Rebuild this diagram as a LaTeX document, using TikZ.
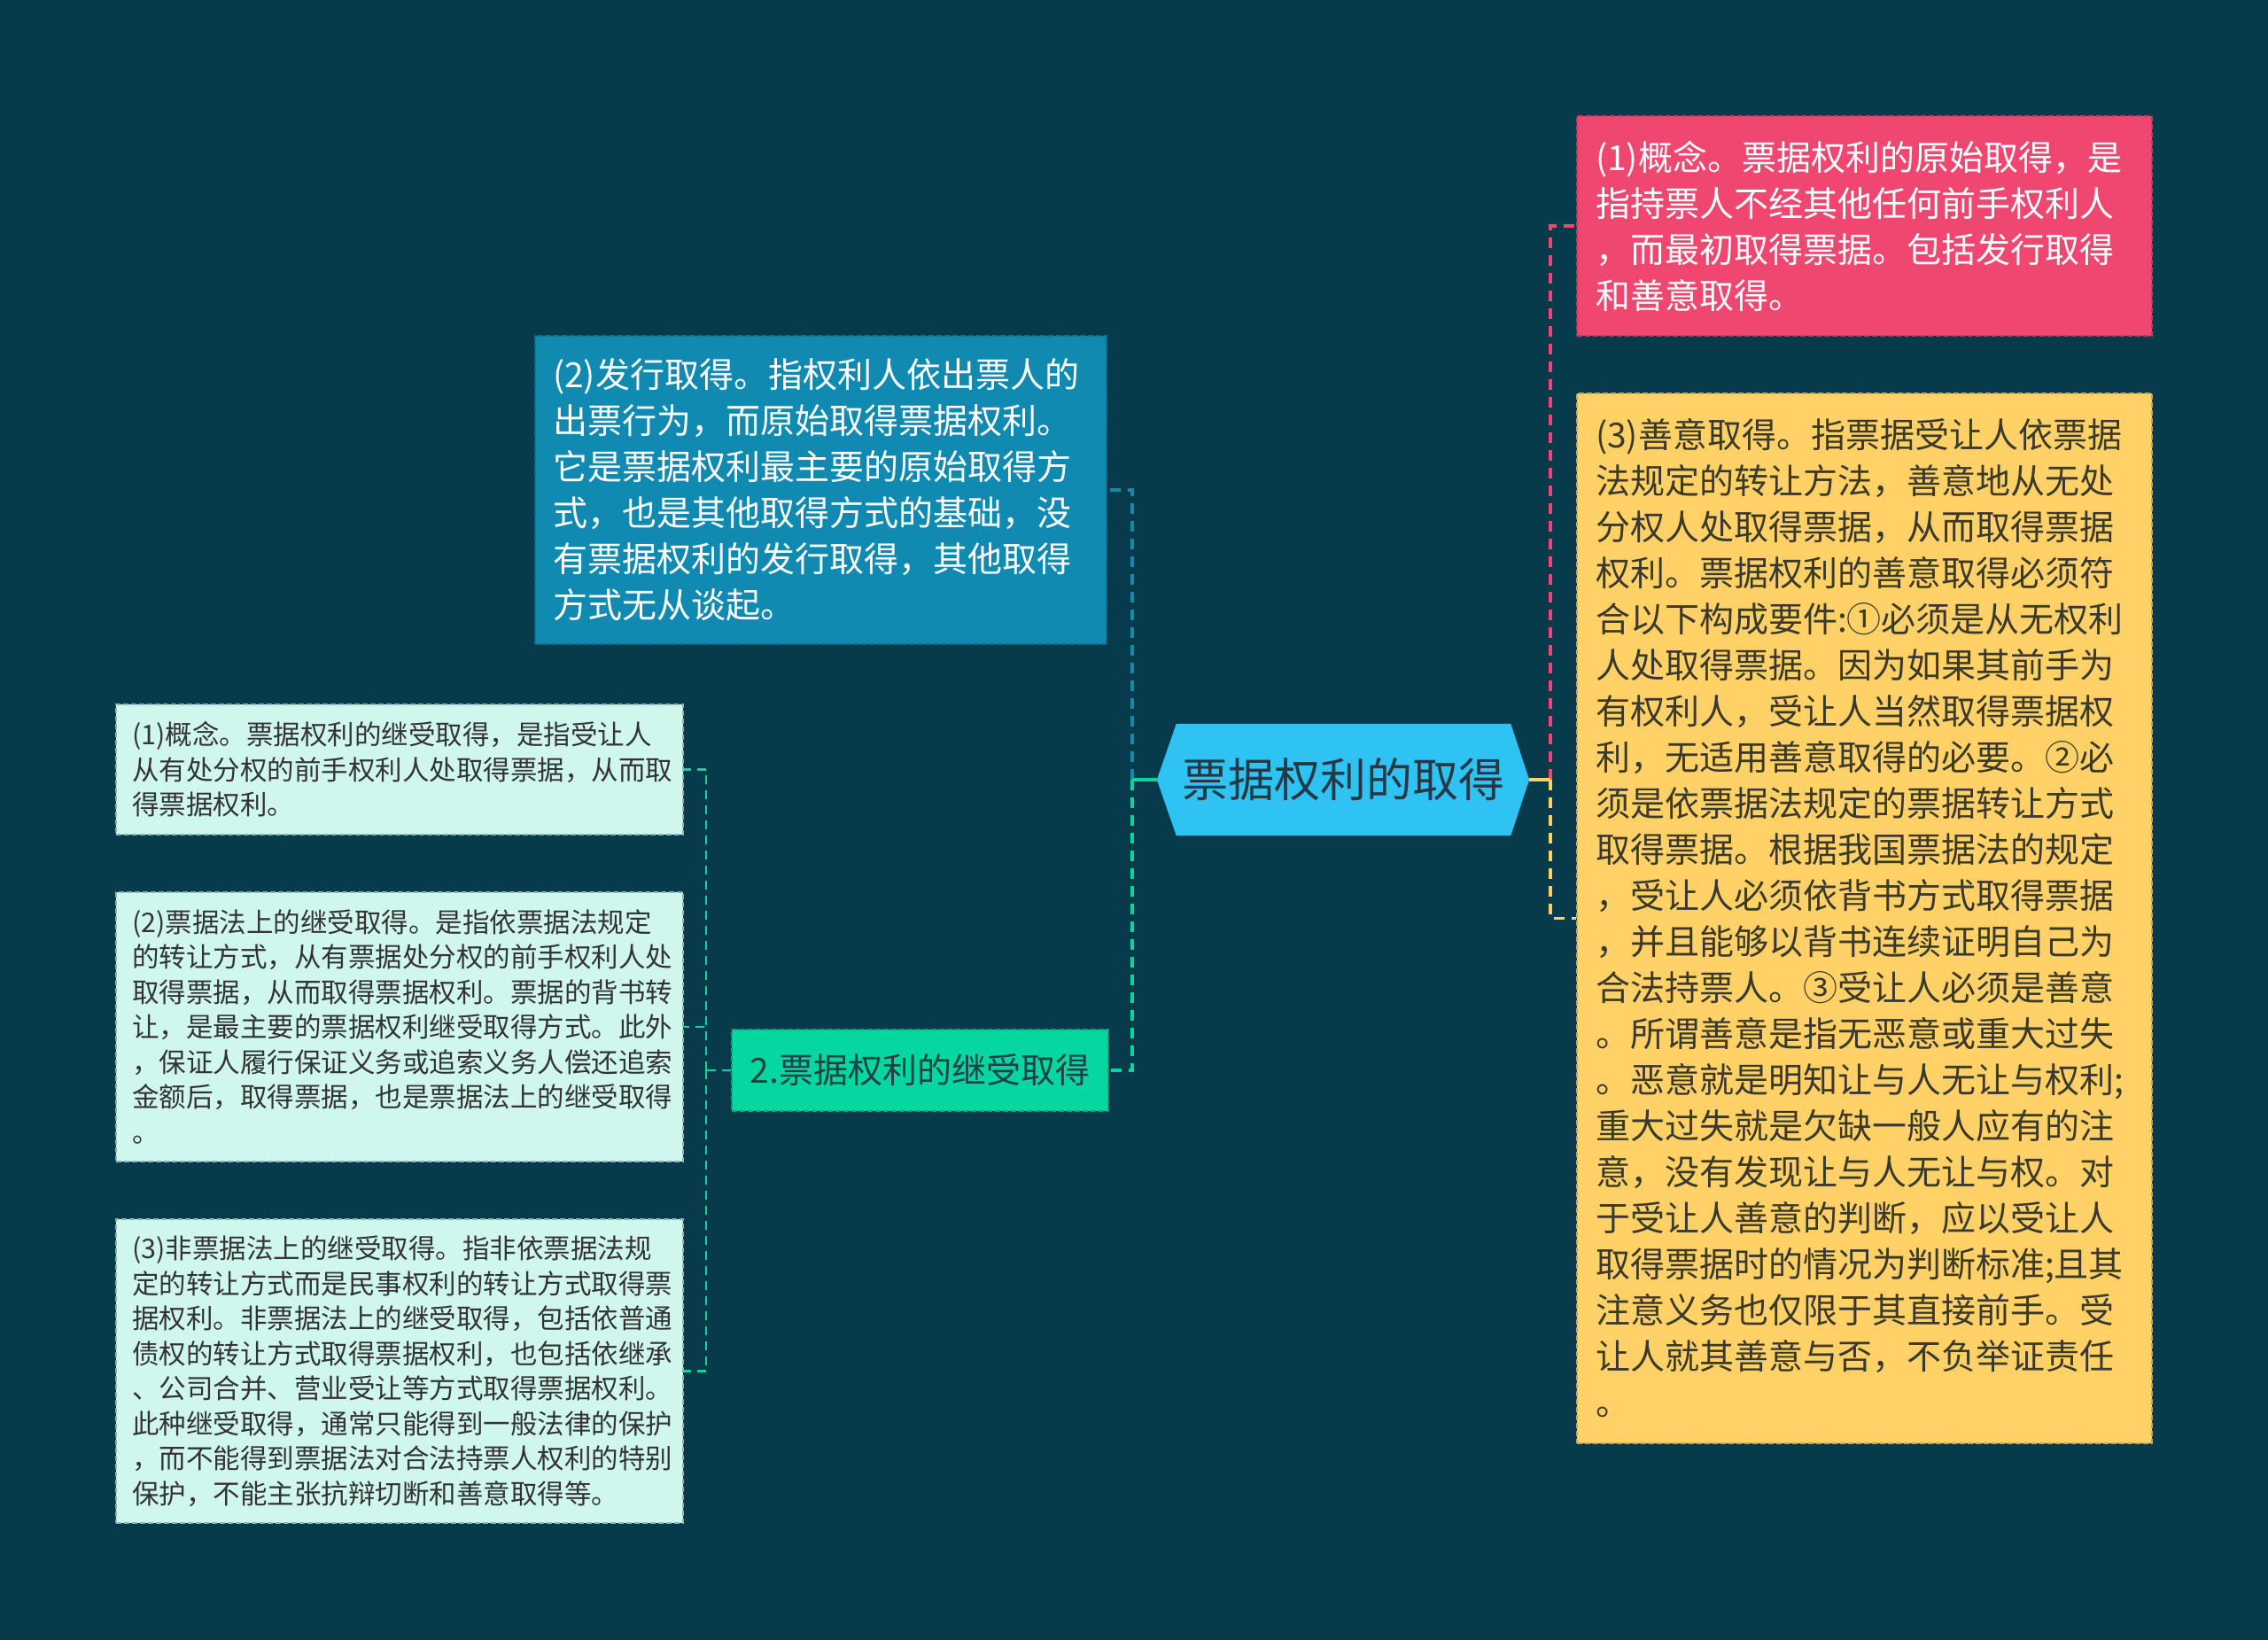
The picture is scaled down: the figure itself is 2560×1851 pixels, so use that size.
\documentclass[tikz,border=0pt]{standalone}
\usepackage{fontspec}
\setmainfont{Noto Sans CJK SC}
\usetikzlibrary{backgrounds}
\definecolor{bgc}{HTML}{073B4C}
\definecolor{rootc}{HTML}{2FC3F4}
\definecolor{roottext}{HTML}{263843}
\definecolor{pinkc}{HTML}{EF476F}
\definecolor{pinkb}{HTML}{C73A5D}
\definecolor{bluec}{HTML}{118AB2}
\definecolor{blueb}{HTML}{0C6F91}
\definecolor{yellc}{HTML}{FFD166}
\definecolor{yellb}{HTML}{C9A650}
\definecolor{yelltext}{HTML}{3A3A2C}
\definecolor{greenc}{HTML}{06D6A0}
\definecolor{greenb}{HTML}{05A57C}
\definecolor{greentext}{HTML}{1F4046}
\definecolor{mintc}{HTML}{CFF7EE}
\definecolor{mintb}{HTML}{8FB3AC}
\definecolor{minttext}{HTML}{333333}
\hbadness=10000 \hfuzz=200pt
\begin{document}
\begin{tikzpicture}[x=1pt,y=-1pt,
  boxbase/.style={rectangle, inner ysep=0pt, line width=1.5pt, dash pattern=on 6pt off 3pt},
  bigtext/.style={font=\fontsize{39}{52}\selectfont, align=left},
  smalltext/.style={font=\fontsize{30.5}{39.5}\selectfont, align=left},
  pinkbox/.style={boxbase, bigtext, fill=pinkc, draw=pinkb, text=white, inner xsep=21pt},
  bluebox/.style={boxbase, bigtext, fill=bluec, draw=blueb, text=white, inner xsep=20pt},
  yellbox/.style={boxbase, bigtext, fill=yellc, draw=yellb, text=yelltext, inner xsep=21pt},
  mintbox/.style={boxbase, smalltext, fill=mintc, draw=mintb, text=minttext, inner xsep=18pt},
  greenbox/.style={boxbase, fill=greenc, draw=greenb, text=greentext, inner xsep=10pt, font=\fontsize{39}{46}\selectfont, align=center},
  rootnode/.style={rectangle, inner sep=0pt, text=roottext, font=\fontsize{52}{60}\selectfont},
  conn/.style={line width=3.5pt},
  dconn/.style={line width=3.5pt, dash pattern=on 12pt off 8pt},
  sconn/.style={line width=2.5pt, dash pattern=on 10pt off 7pt, draw=greenc}
]
\node[rootnode, minimum width=420pt, minimum height=126pt] (root) at (1516,880) {票据权利的取得};

\node[pinkbox, minimum width=649pt, minimum height=248pt, text width=607pt] (p1) at (2104.5,255) {(1)概念。票据权利的原始取得，是\\指持票人不经其他任何前手权利人\\，而最初取得票据。包括发行取得\\和善意取得。};

\node[yellbox, minimum width=649pt, minimum height=1185pt, text width=607pt] (y3) at (2104.5,1036.5) {(3)善意取得。指票据受让人依票据\\法规定的转让方法，善意地从无处\\分权人处取得票据，从而取得票据\\权利。票据权利的善意取得必须符\\合以下构成要件:①必须是从无权利\\人处取得票据。因为如果其前手为\\有权利人，受让人当然取得票据权\\利，无适用善意取得的必要。②必\\须是依票据法规定的票据转让方式\\取得票据。根据我国票据法的规定\\，受让人必须依背书方式取得票据\\，并且能够以背书连续证明自己为\\合法持票人。③受让人必须是善意\\。所谓善意是指无恶意或重大过失\\。恶意就是明知让与人无让与权利;\\重大过失就是欠缺一般人应有的注\\意，没有发现让与人无让与权。对\\于受让人善意的判断，应以受让人\\取得票据时的情况为判断标准;且其\\注意义务也仅限于其直接前手。受\\让人就其善意与否，不负举证责任\\。};

\node[bluebox, minimum width=645pt, minimum height=348pt, text width=605pt] (b2) at (926.5,553) {(2)发行取得。指权利人依出票人的\\出票行为，而原始取得票据权利。\\它是票据权利最主要的原始取得方\\式，也是其他取得方式的基础，没\\有票据权利的发行取得，其他取得\\方式无从谈起。};

\node[greenbox, minimum width=425pt, minimum height=92pt] (g) at (1038.5,1208) {2.票据权利的继受取得};

\node[mintbox, minimum width=640pt, minimum height=147pt, text width=604pt] (m1) at (451,868.5) {(1)概念。票据权利的继受取得，是指受让人\\从有处分权的前手权利人处取得票据，从而取\\得票据权利。};

\node[mintbox, minimum width=640pt, minimum height=304pt, text width=604pt] (m2) at (451,1159) {(2)票据法上的继受取得。是指依票据法规定\\的转让方式，从有票据处分权的前手权利人处\\取得票据，从而取得票据权利。票据的背书转\\让，是最主要的票据权利继受取得方式。此外\\，保证人履行保证义务或追索义务人偿还追索\\金额后，取得票据，也是票据法上的继受取得\\。};

\node[mintbox, minimum width=640pt, minimum height=343pt, text width=604pt] (m3) at (451,1547.5) {(3)非票据法上的继受取得。指非依票据法规\\定的转让方式而是民事权利的转让方式取得票\\据权利。非票据法上的继受取得，包括依普通\\债权的转让方式取得票据权利，也包括依继承\\、公司合并、营业受让等方式取得票据权利。\\此种继受取得，通常只能得到一般法律的保护\\，而不能得到票据法对合法持票人权利的特别\\保护，不能主张抗辩切断和善意取得等。};

\coordinate (jl) at (1278,880);
\coordinate (jr) at (1750,880);
\coordinate (jg) at (797,1208);

\begin{scope}[on background layer]
  \fill[bgc] (0,0) rectangle (2560,1851);
  \fill[rootc] ([xshift=22pt]root.north west) -- ([xshift=-21pt]root.north east) -- (root.east) -- ([xshift=-21pt]root.south east) -- ([xshift=22pt]root.south west) -- (root.west) -- cycle;
  \draw[dconn, draw=bluec] (jl) |- (b2.east);
  \draw[dconn, draw=greenc] (jl) |- (g.east);
  \draw[conn, draw=greenc] (root.west) -- (jl);
  \draw[dconn, draw=pinkc] (jr) |- (p1.west);
  \draw[dconn, draw=yellc] (jr) |- (y3.west);
  \draw[conn, draw=yellc] (root.east) -- (jr);
  \draw[sconn] (g.west) -- (jg);
  \draw[sconn] (jg) |- (m1.east);
  \draw[sconn] (jg) |- (m2.east);
  \draw[sconn] (jg) |- (m3.east);
\end{scope}
\end{tikzpicture}
\end{document}
